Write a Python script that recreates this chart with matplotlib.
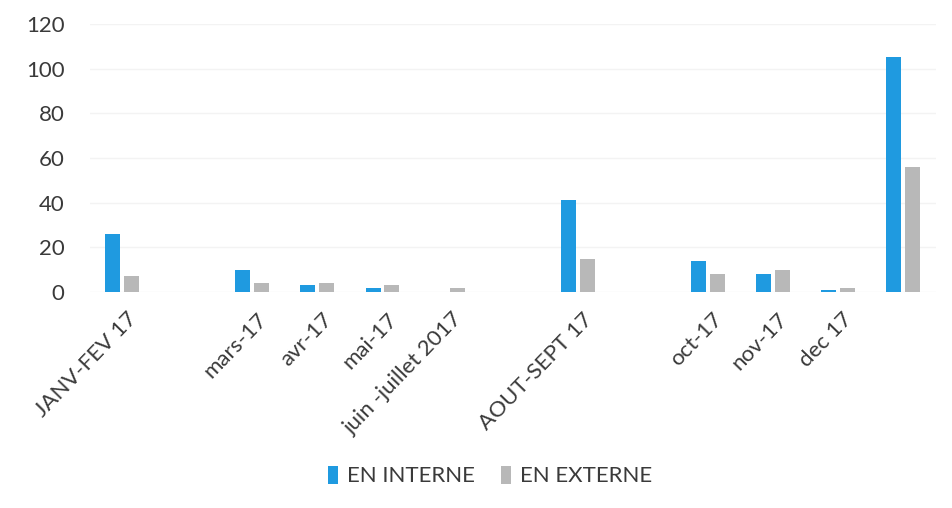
import matplotlib.pyplot as plt
import matplotlib.transforms as mtransforms
from numpy import arange

plt.rcParams['font.family'] = ['Lato', 'DejaVu Sans']

# categories (empty strings are the blank slots in the original)
categories = ['JANV-FEV 17', '', 'mars-17', 'avr-17', 'mai-17',
              'juin -juillet 2017', '', 'AOUT-SEPT 17', '', 'oct-17',
              'nov-17', 'dec 17', '']
en_interne = [26, 0, 10, 3, 2, 0, 0, 41, 0, 14, 8, 1, 105]
en_externe = [7, 0, 4, 4, 3, 2, 0, 15, 0, 8, 10, 2, 56]
y_ticks = [0, 20, 40, 60, 80, 100, 120]

blue = '#1f9ae0'
grey = '#b8b8b8'
text_col = '#3a3a3a'

fig = plt.figure(figsize=(9.53, 5.08), dpi=100)
ax = fig.add_axes([0.094, 0.425, 0.888, 0.528])

x = arange(len(categories))
w = 0.23
ax.bar(x - 0.145, en_interne, width=w, color=blue, label='EN INTERNE')
ax.bar(x + 0.145, en_externe, width=w, color=grey, label='EN EXTERNE')

ax.set_xlim(-0.5, len(categories) - 0.5)
ax.set_ylim(0, 120)
ax.set_yticks(y_ticks)
ax.grid(axis='y', color='#f3f3f3', linewidth=1)
ax.set_axisbelow(True)
for s in ax.spines.values():
    s.set_visible(False)

ax.tick_params(axis='both', length=0, labelsize=16, colors=text_col)
ax.tick_params(axis='y', pad=18)
ax.set_xticks(x)
ax.set_xticklabels(categories, rotation=46, ha='right', va='top',
                   rotation_mode='anchor')
# nudge the rotated labels to where they sit in the original
offset = mtransforms.ScaledTranslation(0.04, -0.12, fig.dpi_scale_trans)
for lab in ax.get_xticklabels():
    lab.set_transform(lab.get_transform() + offset)

fig.legend(loc='center', bbox_to_anchor=(0.514, 0.063), ncol=2,
           frameon=False, fontsize=16, labelcolor=text_col,
           handlelength=0.45, handleheight=0.9, handletextpad=0.4,
           columnspacing=1.2)

fig.savefig('out.png', dpi=100)
